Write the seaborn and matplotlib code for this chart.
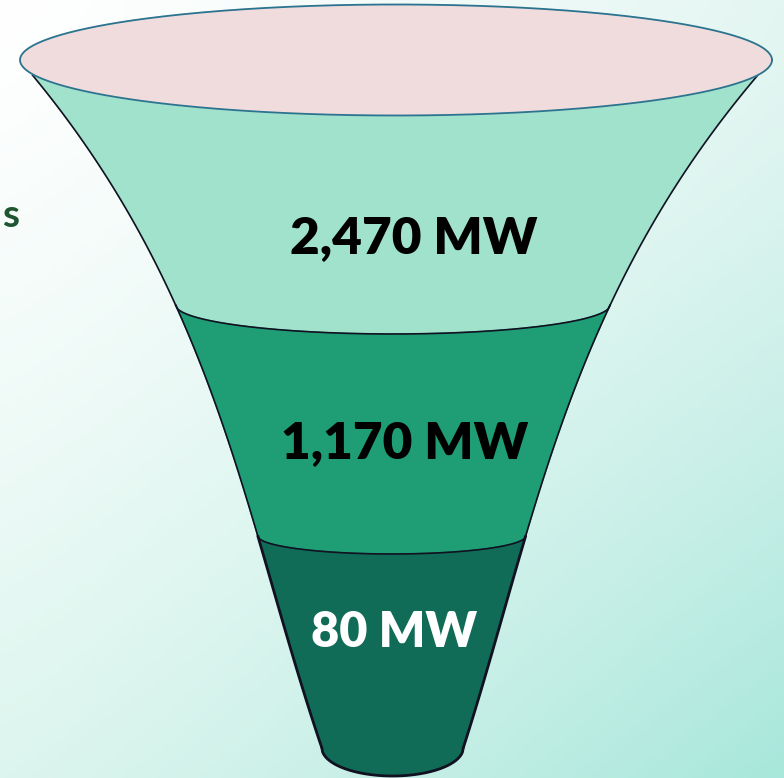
import numpy as np
import matplotlib
matplotlib.use("Agg")
import matplotlib.pyplot as plt
import seaborn as sns

# Funnel stages (top to bottom)
stage_values = [2470, 1170, 80]
stage_labels = ["2,470 MW", "1,170 MW", "80 MW"]
stage_colors = ["#A0E2CB", "#1F9E76", "#106C56"]
label_colors = ["black", "black", "white"]

sns.set_theme(style="white")
plt.rcParams["font.family"] = ["Lato", "DejaVu Sans"]

W, H = 784, 778
fig = plt.figure(figsize=(W / 100, H / 100), dpi=100)
ax = fig.add_axes([0, 0, 1, 1])
ax.set_xlim(0, W)
ax.set_ylim(H, 0)
ax.axis("off")

# soft diagonal background wash
gx, gy = np.meshgrid(np.linspace(0, 1, 200), np.linspace(0, 1, 200))
tl = np.array([255, 255, 255]) / 255
tr = np.array([228, 246, 242]) / 255
bl = np.array([220, 245, 238]) / 255
br = np.array([168, 231, 219]) / 255
wx, wy = gx ** 1.2, gy ** 1.3
bg = (tl * ((1 - wx) * (1 - wy))[..., None] + tr * (wx * (1 - wy))[..., None]
      + bl * ((1 - wx) * wy)[..., None] + br * (wx * wy)[..., None])
ax.imshow(bg, extent=[0, W, H, 0], aspect="auto", zorder=0)

# side caption, only its last letter in view
ax.text(2, 215, "s", color="#1E5631", fontsize=28, fontweight="bold",
        ha="left", va="center", zorder=1)

# funnel outline: side curves x(y)
side_y = np.array([75, 150, 200, 305, 535, 748])
left_x = np.array([33, 88, 120, 177, 257, 322])
right_x = np.array([757, 700, 670, 607, 527, 463])
pl = np.polyfit(side_y, left_x, 3)
pr = np.polyfit(side_y, right_x, 3)

def xl(y):
    return np.polyval(pl, y)

def xr(y):
    return np.polyval(pr, y)

# top rim ellipse
ecx, ecy, ea, eb = 396, 60, 376, 55.5

def rim_arc(n=200):
    x0, x1 = xl(75), xr(77)
    xs = np.linspace(x0, x1, n)
    ys = ecy + eb * np.sqrt(np.clip(1 - ((xs - ecx) / ea) ** 2, 0, 1))
    return xs, ys

def lower_arc(y_edge, sag, n=200):
    x0, x1 = xl(y_edge), xr(y_edge)
    xs = np.linspace(x0, x1, n)
    t = (xs - (x0 + x1) / 2) / ((x1 - x0) / 2)
    ys = y_edge + sag * np.sqrt(np.clip(1 - t ** 2, 0, 1))
    return xs, ys

band_edges = [305, 536, 748]
band_sags = [29, 18, 28]

top_x, top_y = rim_arc()
top_edge_y = 75
for i, (ye, sag) in enumerate(zip(band_edges, band_sags)):
    ys_l = np.linspace(top_edge_y, ye, 100)
    bx, by = lower_arc(ye, sag)
    ys_r = ys_l[::-1]
    px = np.concatenate([xl(ys_l), bx, xr(ys_r), top_x[::-1]])
    py = np.concatenate([ys_l, by, ys_r, top_y[::-1]])
    lw = 2.0 if i == 2 else 1.2
    ax.fill(px, py, color=stage_colors[i], zorder=2 + i)
    ax.plot(xl(ys_l), ys_l, color="#111122", lw=lw, zorder=6)
    ax.plot(xr(ys_l), ys_l, color="#111122", lw=lw, zorder=6)
    ax.plot(bx, by, color="#111122", lw=lw, zorder=6)
    top_x, top_y = bx, by
    top_edge_y = ye

# rim on top
th = np.linspace(0, 2 * np.pi, 400)
ax.fill(ecx + ea * np.cos(th), ecy + eb * np.sin(th), color="#F0DCDC", zorder=7)
ax.plot(ecx + ea * np.cos(th), ecy + eb * np.sin(th), color="#2A7490", lw=1.3, zorder=8)

label_pos = [(414, 253), (405, 458), (394, 647)]
label_sizes = [37, 37, 35]
for (x, y), lab, c, fs in zip(label_pos, stage_labels, label_colors, label_sizes):
    ax.text(x, y, lab, ha="center", va="baseline", fontsize=fs, fontweight="heavy",
            color=c, zorder=9)

fig.savefig("out.png", dpi=100)
